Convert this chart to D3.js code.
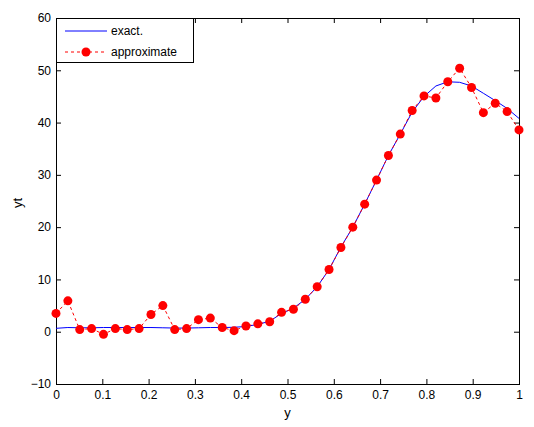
<!DOCTYPE html>
<html>
<head>
<meta charset="utf-8">
<script src="https://cdn.jsdelivr.net/npm/d3@7"></script>
<style>
  body { margin: 0; background: #fff; }
  svg { display: block; font-family: "Liberation Sans", Arial, sans-serif; }
  .tick text { font-size: 12px; fill: #000; }
</style>
</head>
<body>
<div id="chart"></div>
<script>
// sample points y = i/39, i = 0..39
const nPts = 40;
const exactVals = [0.65, 0.8, 0.75, 0.75, 0.8, 0.8, 0.8, 0.8, 0.8, 0.75,
                   0.7, 0.7, 0.75, 0.8, 0.8, 0.85, 1.0, 1.4, 2.0, 3.5,
                   4.5, 6.2, 8.6, 11.9, 16.2, 20.0, 24.4, 29.0, 33.7, 37.8,
                   42.0, 45.0, 47.0, 47.8, 47.7, 47.0, 45.6, 44.2, 42.7, 40.8];
const approxVals = [3.5, 5.9, 0.4, 0.6, -0.5, 0.6, 0.4, 0.6, 3.3, 5.0,
                    0.4, 0.6, 2.3, 2.6, 0.8, 0.2, 1.1, 1.5, 1.9, 3.7,
                    4.3, 6.2, 8.6, 11.9, 16.1, 20.0, 24.4, 29.0, 33.7, 37.8,
                    42.3, 45.1, 44.7, 47.8, 50.4, 46.7, 41.9, 43.7, 42.1, 38.6];
const xTicks = [0, 0.1, 0.2, 0.3, 0.4, 0.5, 0.6, 0.7, 0.8, 0.9, 1];
const yTicks = [-10, 0, 10, 20, 30, 40, 50, 60];
const seriesNames = ["exact.", "approximate"];

const xs = d3.range(nPts).map(i => i / (nPts - 1));
const exact = xs.map((x, i) => ({ x, y: exactVals[i] }));
const approx = xs.map((x, i) => ({ x, y: approxVals[i] }));

const W = 534, H = 427;
const box = { left: 56, right: 519, top: 18, bottom: 384 };

const svg = d3.select("#chart").append("svg")
    .attr("width", W)
    .attr("height", H);

const x = d3.scaleLinear().domain([0, 1]).range([box.left, box.right]);
const y = d3.scaleLinear().domain([-10, 60]).range([box.bottom, box.top]);

// axes, ticks pointing inward like matlab
svg.append("g")
    .attr("transform", `translate(0,${box.bottom})`)
    .call(d3.axisBottom(x).tickValues(xTicks).tickFormat(d3.format("")).tickSizeInner(-5).tickSizeOuter(0).tickPadding(6))
    .call(g => g.select(".domain").remove());

svg.append("g")
    .attr("transform", `translate(0,${box.top})`)
    .call(d3.axisTop(x).tickValues(xTicks).tickFormat("").tickSizeInner(-5).tickSizeOuter(0))
    .call(g => g.select(".domain").remove());

svg.append("g")
    .attr("transform", `translate(${box.left},0)`)
    .call(d3.axisLeft(y).tickValues(yTicks).tickSizeInner(-5).tickSizeOuter(0).tickPadding(5))
    .call(g => g.select(".domain").remove());

svg.append("g")
    .attr("transform", `translate(${box.right},0)`)
    .call(d3.axisRight(y).tickValues(yTicks).tickFormat("").tickSizeInner(-5).tickSizeOuter(0))
    .call(g => g.select(".domain").remove());

svg.selectAll(".tick line").attr("stroke", "#000");

// plot box
svg.append("rect")
    .attr("x", box.left + 0.5).attr("y", box.top + 0.5)
    .attr("width", box.right - box.left).attr("height", box.bottom - box.top)
    .attr("fill", "none").attr("stroke", "#000");

const line = d3.line().x(d => x(d.x)).y(d => y(d.y));

svg.append("path")
    .datum(exact)
    .attr("d", line)
    .attr("fill", "none")
    .attr("stroke", "#0000ff")
    .attr("stroke-width", 1);

svg.append("path")
    .datum(approx)
    .attr("d", line)
    .attr("fill", "none")
    .attr("stroke", "#ff0000")
    .attr("stroke-width", 1)
    .attr("stroke-dasharray", "3,3");

svg.selectAll(".pt")
    .data(approx)
    .enter()
    .append("circle")
    .attr("class", "pt")
    .attr("cx", d => x(d.x))
    .attr("cy", d => y(d.y))
    .attr("r", 4.5)
    .attr("fill", "#ff0000");

// axis labels
svg.append("text")
    .attr("x", (box.left + box.right) / 2)
    .attr("y", 417)
    .attr("text-anchor", "middle")
    .style("font-size", "13px")
    .text("y");

svg.append("text")
    .attr("transform", "translate(22,203) rotate(-90)")
    .attr("text-anchor", "middle")
    .style("font-size", "13px")
    .text("yt");

// legend
const leg = svg.append("g");
leg.append("rect")
    .attr("x", box.left + 0.5).attr("y", box.top + 0.5)
    .attr("width", 137).attr("height", 44)
    .attr("fill", "#fff").attr("stroke", "#000");

leg.append("line")
    .attr("x1", 65).attr("x2", 107).attr("y1", 31).attr("y2", 31)
    .attr("stroke", "#0000ff");
leg.append("line")
    .attr("x1", 65).attr("x2", 107).attr("y1", 52).attr("y2", 52)
    .attr("stroke", "#ff0000").attr("stroke-dasharray", "3,3");
leg.append("circle")
    .attr("cx", 86).attr("cy", 52).attr("r", 4.5)
    .attr("fill", "#ff0000");

leg.selectAll(".leg-text")
    .data(seriesNames)
    .enter()
    .append("text")
    .attr("class", "leg-text")
    .attr("x", 111)
    .attr("y", (d, i) => 31 + i * 21)
    .attr("dy", "0.35em")
    .style("font-size", "12px")
    .text(d => d);
</script>
</body>
</html>
